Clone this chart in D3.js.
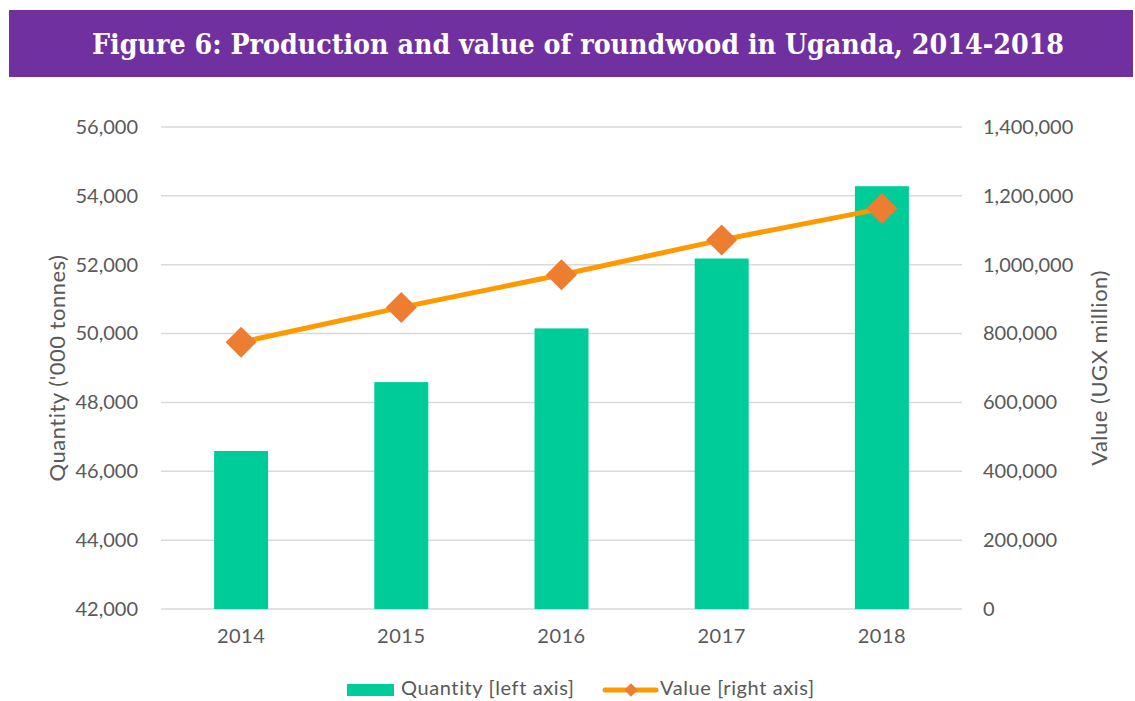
<!DOCTYPE html>
<html>
<head>
<meta charset="utf-8">
<script src="https://cdn.jsdelivr.net/npm/d3@7"></script>
<style>
  body { margin: 0; background: #fff; }
  svg { display: block; }
</style>
</head>
<body>
<div id="chart"></div>
<script>
const years = ["2014", "2015", "2016", "2017", "2018"];
const quantity = [46590, 48590, 50150, 52180, 54280];
const value = [775000, 876000, 971000, 1072000, 1163000];
const leftTicks = [42000, 44000, 46000, 48000, 50000, 52000, 54000, 56000];
const rightTicks = [0, 200000, 400000, 600000, 800000, 1000000, 1200000, 1400000];

const width = 1135, height = 701;
const margin = { top: 127, right: 173, bottom: 91, left: 161 };
const font = "Lato, 'Open Sans', sans-serif";
const grey = "#595959";

const svg = d3.select("#chart").append("svg")
  .attr("width", width)
  .attr("height", height);

// title band
svg.append("rect")
  .attr("x", 9).attr("y", 10)
  .attr("width", 1124).attr("height", 67)
  .attr("fill", "#7030A0");

svg.append("text")
  .attr("x", 578).attr("y", 46)
  .attr("text-anchor", "middle")
  .attr("dominant-baseline", "middle")
  .attr("fill", "#fff")
  .attr("textLength", 972)
  .attr("lengthAdjust", "spacingAndGlyphs")
  .style("font-family", "'DejaVu Serif', serif")
  .style("font-weight", "bold")
  .style("font-size", "27px")
  .text("Figure 6: Production and value of roundwood in Uganda, 2014-2018");

const innerW = width - margin.left - margin.right;
const innerH = height - margin.top - margin.bottom - 1;

const x = d3.scaleBand().domain(years).range([0, innerW]).paddingInner(0.663).paddingOuter(0.3315);
const yL = d3.scaleLinear().domain([42000, 56000]).range([innerH, 0]);
const yR = d3.scaleLinear().domain([0, 1400000]).range([innerH, 0]);

const g = svg.append("g").attr("transform", `translate(${margin.left},${margin.top})`);

// gridlines
g.append("g")
  .selectAll("line")
  .data(leftTicks)
  .join("line")
  .attr("x1", 0).attr("x2", innerW)
  .attr("y1", (d) => yL(d)).attr("y2", (d) => yL(d))
  .attr("stroke", "#D9D9D9")
  .attr("stroke-width", 1.5);

// left axis
const axisL = g.append("g")
  .call(d3.axisLeft(yL).tickValues(leftTicks).tickSize(0).tickPadding(23).tickFormat(d3.format(",")));
axisL.select(".domain").remove();
axisL.selectAll("text")
  .attr("fill", grey)
  .style("font-family", font)
  .style("font-size", "20px");

// right axis
const axisR = g.append("g")
  .attr("transform", `translate(${innerW},0)`)
  .call(d3.axisRight(yR).tickValues(rightTicks).tickSize(0).tickPadding(21).tickFormat(d3.format(",")));
axisR.select(".domain").remove();
axisR.selectAll("text")
  .attr("fill", grey)
  .style("font-family", font)
  .style("font-size", "20px");

// x axis
const axisX = g.append("g")
  .attr("transform", `translate(0,${innerH})`)
  .call(d3.axisBottom(x).tickSize(0).tickPadding(20));
axisX.select(".domain").remove();
axisX.selectAll("text")
  .attr("fill", grey)
  .style("font-family", font)
  .style("font-size", "20px")
  .style("letter-spacing", "0.5px");

// axis titles
svg.append("text")
  .attr("transform", `translate(65,368) rotate(-90)`)
  .attr("text-anchor", "middle")
  .attr("fill", grey)
  .style("font-family", font)
  .style("font-size", "22px")
  .style("letter-spacing", "0.5px")
  .text("Quantity ('000 tonnes)");

svg.append("text")
  .attr("transform", `translate(1107,368) rotate(-90)`)
  .attr("text-anchor", "middle")
  .attr("fill", grey)
  .style("font-family", font)
  .style("font-size", "22px")
  .style("letter-spacing", "0.5px")
  .text("Value (UGX million)");

// bars
g.append("g")
  .selectAll("rect")
  .data(years)
  .join("rect")
  .attr("x", (d) => x(d))
  .attr("width", x.bandwidth())
  .attr("y", (d, i) => yL(quantity[i]))
  .attr("height", (d, i) => innerH - yL(quantity[i]))
  .attr("fill", "#00CC99");

// line
const line = d3.line()
  .x((d, i) => x(years[i]) + x.bandwidth() / 2)
  .y((d) => yR(d));

g.append("path")
  .datum(value)
  .attr("d", line)
  .attr("fill", "none")
  .attr("stroke", "#FF9900")
  .attr("stroke-width", 5);

const diamond = d3.symbol().type(d3.symbolSquare).size(480);
g.append("g")
  .selectAll("path")
  .data(value)
  .join("path")
  .attr("d", diamond)
  .attr("transform", (d, i) => `translate(${x(years[i]) + x.bandwidth() / 2},${yR(d)}) rotate(45)`)
  .attr("fill", "#ED7D31");

// legend
const legend = svg.append("g").attr("transform", "translate(0,690)");
legend.append("rect")
  .attr("x", 347).attr("y", -6)
  .attr("width", 47).attr("height", 12)
  .attr("fill", "#00CC99");
legend.append("text")
  .attr("x", 401).attr("y", 0)
  .attr("dominant-baseline", "middle")
  .attr("fill", grey)
  .style("font-family", font)
  .style("font-size", "20px")
  .style("letter-spacing", "0.6px")
  .text("Quantity [left axis]");
legend.append("line")
  .attr("x1", 605).attr("x2", 656)
  .attr("y1", 0).attr("y2", 0)
  .attr("stroke", "#FF9900")
  .attr("stroke-width", 5)
  .attr("stroke-linecap", "round");
legend.append("path")
  .attr("d", d3.symbol().type(d3.symbolSquare).size(90))
  .attr("transform", "translate(631,0) rotate(45)")
  .attr("fill", "#ED7D31");
legend.append("text")
  .attr("x", 660).attr("y", 0)
  .attr("dominant-baseline", "middle")
  .attr("fill", grey)
  .style("font-family", font)
  .style("font-size", "20px")
  .style("letter-spacing", "0.6px")
  .text("Value [right axis]");
</script>
</body>
</html>
